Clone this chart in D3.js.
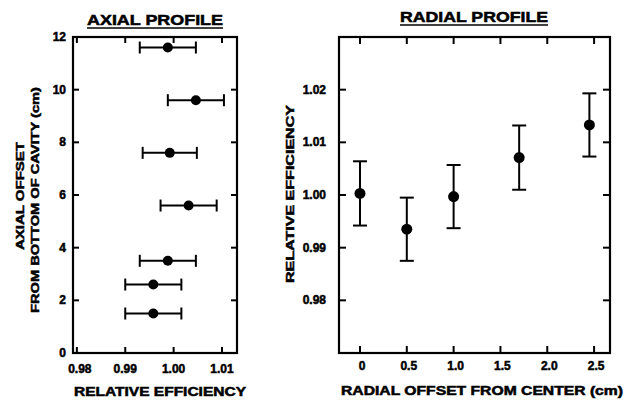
<!DOCTYPE html>
<html>
<head>
<meta charset="utf-8">
<script src="https://cdn.jsdelivr.net/npm/d3@7"></script>
<style>
  body { margin: 0; background: #fff; }
  text { font-family: "Liberation Sans", Arial, sans-serif; font-weight: bold; fill: #000;
         stroke: #000; stroke-width: 0.5px; }
</style>
</head>
<body>
<svg id="chart" width="626" height="402"></svg>
<script>
// Axial profile (left panel)
const axialOffset = [11.6, 9.6, 7.6, 5.6, 3.5, 2.6, 1.5];
const axialEff = [0.9988, 1.0046, 0.9992, 1.0031, 0.9988, 0.9958, 0.9958];
const axialErr = [0.0058, 0.0058, 0.0056, 0.0058, 0.0058, 0.0058, 0.0058];
const axialXTicks = [0.98, 0.99, 1.00, 1.01];
const axialYTicks = [0, 2, 4, 6, 8, 10, 12];

// Radial profile (right panel)
const radialOffset = [0, 0.5, 1.0, 1.7, 2.45];
const radialEff = [1.0003, 0.9935, 0.9997, 1.0071, 1.0133];
const radialErr = [0.0061, 0.0060, 0.0060, 0.0061, 0.0060];
const radialXTicks = [0, 0.5, 1.0, 1.5, 2.0, 2.5];
const radialYTicks = [0.98, 0.99, 1.00, 1.01, 1.02];

const svg = d3.select("#chart");

// Draw frame with inward ticks on all four sides
function drawFrame(x, y, xTicks, yTicks, tickLen) {
  const g = svg.append("g");
  const [x0, x1] = x.range();
  const [y0, y1] = y.range();
  g.append("rect")
    .attr("x", x0).attr("y", y1)
    .attr("width", x1 - x0).attr("height", y0 - y1)
    .attr("fill", "none").attr("stroke", "#000").attr("stroke-width", 2.2);

  const innerX = xTicks.filter(t => x(t) > x0 + 3 && x(t) < x1 - 3);
  const innerY = yTicks.filter(t => y(t) < y0 - 3 && y(t) > y1 + 3);

  innerX.forEach(t => {
    g.append("line").attr("x1", x(t)).attr("x2", x(t)).attr("y1", y0).attr("y2", y0 - tickLen)
      .attr("stroke", "#000").attr("stroke-width", 2);
    g.append("line").attr("x1", x(t)).attr("x2", x(t)).attr("y1", y1).attr("y2", y1 + tickLen)
      .attr("stroke", "#000").attr("stroke-width", 2);
  });
  innerY.forEach(t => {
    g.append("line").attr("x1", x0).attr("x2", x0 + tickLen).attr("y1", y(t)).attr("y2", y(t))
      .attr("stroke", "#000").attr("stroke-width", 2);
    g.append("line").attr("x1", x1).attr("x2", x1 - tickLen).attr("y1", y(t)).attr("y2", y(t))
      .attr("stroke", "#000").attr("stroke-width", 2);
  });
  return g;
}

// Underlined title
function drawTitle(text, cx, baseline, width) {
  svg.append("text")
    .attr("x", cx).attr("y", baseline)
    .attr("text-anchor", "middle")
    .attr("font-size", 14)
    .attr("textLength", width).attr("lengthAdjust", "spacingAndGlyphs")
    .text(text);
  svg.append("line")
    .attr("x1", cx - width / 2).attr("x2", cx + width / 2)
    .attr("y1", baseline + 3).attr("y2", baseline + 3)
    .attr("stroke", "#000").attr("stroke-width", 1.5);
}

// ---------- Left panel ----------
const xA = d3.scaleLinear().domain([0.9792, 1.0131]).range([73, 237]);
const yA = d3.scaleLinear().domain([0, 12]).range([353, 37]);

drawFrame(xA, yA, axialXTicks, axialYTicks, 6);
drawTitle("AXIAL PROFILE", 155, 25, 136);

svg.append("g").selectAll("text")
  .data(axialYTicks).join("text")
  .attr("x", 66).attr("y", d => yA(d) + 4)
  .attr("text-anchor", "end").attr("font-size", 12)
  .text(d => d);

svg.append("g").selectAll("text")
  .data(axialXTicks).join("text")
  .attr("x", d => xA(d) + (d === 0.98 ? 3 : 0)).attr("y", 373)
  .attr("text-anchor", "middle").attr("font-size", 12)
  .text(d => d3.format(".2f")(d));

svg.append("text")
  .attr("x", 160).attr("y", 396)
  .attr("text-anchor", "middle").attr("font-size", 12)
  .attr("textLength", 172).attr("lengthAdjust", "spacingAndGlyphs")
  .text("RELATIVE EFFICIENCY");

svg.append("text")
  .attr("transform", "translate(24,196) rotate(-90)")
  .attr("text-anchor", "middle").attr("font-size", 11)
  .attr("textLength", 108).attr("lengthAdjust", "spacingAndGlyphs")
  .text("AXIAL OFFSET");
svg.append("text")
  .attr("transform", "translate(39,200) rotate(-90)")
  .attr("text-anchor", "middle").attr("font-size", 11)
  .attr("textLength", 226).attr("lengthAdjust", "spacingAndGlyphs")
  .text("FROM BOTTOM OF CAVITY (cm)");

const gA = svg.append("g");
axialOffset.forEach((o, i) => {
  const cy = yA(o);
  const lo = xA(axialEff[i] - axialErr[i]);
  const hi = xA(axialEff[i] + axialErr[i]);
  gA.append("line").attr("x1", lo).attr("x2", hi).attr("y1", cy).attr("y2", cy)
    .attr("stroke", "#000").attr("stroke-width", 2);
  [lo, hi].forEach(px => gA.append("line")
    .attr("x1", px).attr("x2", px).attr("y1", cy - 6).attr("y2", cy + 6)
    .attr("stroke", "#000").attr("stroke-width", 2));
  gA.append("circle").attr("cx", xA(axialEff[i])).attr("cy", cy).attr("r", 5).attr("fill", "#000");
});

// ---------- Right panel ----------
const xR = d3.scaleLinear().domain([-0.224, 2.67]).range([339, 610]);
const yR = d3.scaleLinear().domain([0.97, 1.03]).range([353, 37]);

drawFrame(xR, yR, radialXTicks, radialYTicks, 7);
drawTitle("RADIAL PROFILE", 474, 22, 148);

svg.append("g").selectAll("text")
  .data(radialYTicks).join("text")
  .attr("x", 326).attr("y", d => yR(d) + 4)
  .attr("text-anchor", "end").attr("font-size", 12)
  .text(d => d3.format(".2f")(d));

svg.append("g").selectAll("text")
  .data(radialXTicks).join("text")
  .attr("x", d => xR(d) + 2).attr("y", 370)
  .attr("text-anchor", "middle").attr("font-size", 12)
  .text(d => d === 0 ? "0" : d3.format(".1f")(d));

svg.append("text")
  .attr("x", 482).attr("y", 395)
  .attr("text-anchor", "middle").attr("font-size", 12)
  .attr("textLength", 282).attr("lengthAdjust", "spacingAndGlyphs")
  .text("RADIAL OFFSET FROM CENTER (cm)");

svg.append("text")
  .attr("transform", "translate(294,194) rotate(-90)")
  .attr("text-anchor", "middle").attr("font-size", 11)
  .attr("textLength", 178).attr("lengthAdjust", "spacingAndGlyphs")
  .text("RELATIVE EFFICIENCY");

const gR = svg.append("g");
radialOffset.forEach((o, i) => {
  const cx = xR(o);
  const lo = yR(radialEff[i] - radialErr[i]);
  const hi = yR(radialEff[i] + radialErr[i]);
  gR.append("line").attr("x1", cx).attr("x2", cx).attr("y1", lo).attr("y2", hi)
    .attr("stroke", "#000").attr("stroke-width", 2);
  [lo, hi].forEach(py => gR.append("line")
    .attr("x1", cx - 7).attr("x2", cx + 7).attr("y1", py).attr("y2", py)
    .attr("stroke", "#000").attr("stroke-width", 2));
  gR.append("circle").attr("cx", cx).attr("cy", yR(radialEff[i])).attr("r", 5.5).attr("fill", "#000");
});
</script>
</body>
</html>
